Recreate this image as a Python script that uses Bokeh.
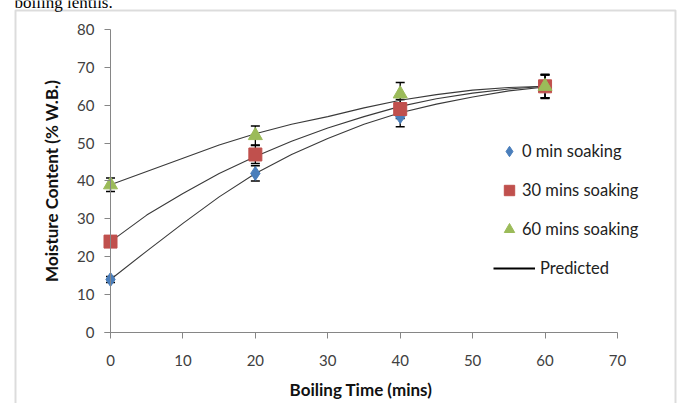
from bokeh.plotting import figure
from bokeh.models import (Range1d, FixedTicker, Whisker, ColumnDataSource, Legend,
                          LegendItem, Label, BoxAnnotation, TeeHead, LinearAxis)
from bokeh.embed import file_html
from bokeh.resources import INLINE

# ---- data ----
time = [0, 20, 40, 60]
soak0 = [14, 42, 57, 65]
soak30 = [24, 47, 59, 65]
soak60 = [39, 52, 63, 65]
err0 = [0.8, 2.0, 2.7, 3.0]
err30 = [0.8, 2.4, 2.5, 3.0]
err60 = [1.8, 2.5, 3.0, 3.2]

pred_time = [0, 5, 10, 15, 20, 25, 30, 35, 40, 45, 50, 55, 60]
pred0 = [14, 21.5, 28.8, 35.8, 42, 47, 51.2, 55, 58, 60.3, 62.2, 63.8, 64.8]
pred30 = [24, 31, 36.7, 42, 46.5, 50.5, 54, 57, 59.7, 61.7, 63.2, 64.3, 65]
pred60 = [39, 42.5, 46, 49.5, 52.5, 55, 57, 59.3, 61.3, 62.8, 64, 64.7, 65]

x_ticks = [0, 10, 20, 30, 40, 50, 60, 70]
y_ticks = [0, 10, 20, 30, 40, 50, 60, 70, 80]

FONT = "Lato"
AXIS_GRAY = "#868686"
NAN = float("nan")

# The frame covers the whole canvas so that the legend, the chart border and the
# caption fragment (all outside the plotting area) are not clipped; the axes are
# drawn at x = 0 and y = 0 with fixed_location.
p = figure(width=681, height=403, output_backend="svg", toolbar_location=None,
           x_range=Range1d(-15.19, 78.84), y_range=Range1d(-18.75, 87.66),
           frame_width=681, frame_height=403,
           min_border_left=0, min_border_right=0, min_border_top=0, min_border_bottom=0,
           x_axis_location=None, y_axis_location=None)
p.background_fill_color = "white"
p.border_fill_color = "white"
p.outline_line_color = None
p.xgrid.visible = False
p.ygrid.visible = False

xaxis = LinearAxis(fixed_location=0, bounds=(-0.8, 70), ticker=FixedTicker(ticks=x_ticks),
                   axis_label="Boiling Time (mins)")
yaxis = LinearAxis(fixed_location=0, bounds=(0, 80), ticker=FixedTicker(ticks=y_ticks),
                   axis_label="Moisture Content (% W.B.)")
for ax in (xaxis, yaxis):
    ax.axis_line_color = AXIS_GRAY
    ax.major_tick_line_color = AXIS_GRAY
    ax.minor_tick_line_color = None
    ax.major_tick_in = 0
    ax.major_tick_out = 6
    ax.major_label_text_font = FONT
    ax.major_label_text_font_size = "15px"
    ax.major_label_text_color = "#404040"
    ax.axis_label_text_font = FONT
    ax.axis_label_text_font_size = "17px"
    ax.axis_label_text_font_style = "bold"
    ax.axis_label_text_color = "#111111"
xaxis.major_label_standoff = 17
xaxis.axis_label_standoff = 9
yaxis.major_label_standoff = 10
yaxis.axis_label_standoff = 12
p.add_layout(xaxis, "below")
p.add_layout(yaxis, "left")

LINE = "#3a3a3a"
p.line(pred_time, pred0, line_color=LINE, line_width=1.1)
p.line(pred_time, pred30, line_color=LINE, line_width=1.1)
p.line(pred_time, pred60, line_color=LINE, line_width=1.1)

BLUE, RED, GREEN = "#4A7EBB", "#C0504D", "#9BBB59"
p.scatter(time, soak0, marker="diamond", size=14, fill_color=BLUE, line_color=BLUE)
p.scatter(time, soak30, marker="square", size=13, fill_color=RED, line_color=RED)
p.scatter(time, soak60, marker="triangle", size=14, fill_color=GREEN, line_color=GREEN)

for vals, errs in ((soak0, err0), (soak30, err30), (soak60, err60)):
    src = ColumnDataSource(dict(base=time,
                                upper=[v + e for v, e in zip(vals, errs)],
                                lower=[v - e for v, e in zip(vals, errs)]))
    w = Whisker(source=src, base="base", upper="upper", lower="lower",
                line_color="black", line_width=1.3,
                upper_head=TeeHead(size=9, line_color="black", line_width=1.5),
                lower_head=TeeHead(size=9, line_color="black", line_width=1.5))
    p.add_layout(w)

# legend-only glyphs
k0 = p.scatter([NAN], [NAN], marker="diamond", fill_color=BLUE, line_color=BLUE)
k30 = p.scatter([NAN], [NAN], marker="square", fill_color=RED, line_color=RED)
k60 = p.scatter([NAN], [NAN], marker="triangle", fill_color=GREEN, line_color=GREEN)
kp = p.line([NAN, NAN], [NAN, NAN], line_color="black", line_width=2)

leg1 = Legend(items=[LegendItem(label="0 min soaking", renderers=[k0]),
                     LegendItem(label="30 mins soaking", renderers=[k30]),
                     LegendItem(label="60 mins soaking", renderers=[k60])],
              location=(496, 159), orientation="vertical")
leg1.glyph_width = 26
leg1.glyph_height = 30
leg1.label_height = 30
leg1.spacing = 9
leg1.label_standoff = 0

leg2 = Legend(items=[LegendItem(label="Predicted", renderers=[kp])],
              location=(493, 125))
leg2.glyph_width = 42
leg2.glyph_height = 20
leg2.label_height = 20
leg2.spacing = 19
leg2.label_standoff = 5

for lg in (leg1, leg2):
    lg.padding = 0
    lg.margin = 0
    lg.border_line_color = None
    lg.background_fill_alpha = 0
    lg.label_text_font = FONT
    lg.label_text_font_size = "16.5px"
    lg.label_text_color = "#222222"
    p.add_layout(lg, "center")

# chart-area border
p.add_layout(BoxAnnotation(left=15, right=675, top=10, bottom=430,
                           left_units="canvas", right_units="canvas",
                           top_units="canvas", bottom_units="canvas",
                           fill_alpha=0, line_color="#8c8c8c", line_width=2))
# caption fragment from the source document, cut by the top edge
p.add_layout(Label(x=14, y=2, x_units="canvas", y_units="canvas", text="boiling lentils.",
                   text_font="Liberation Serif", text_font_size="17px",
                   text_color="black", text_baseline="alphabetic"))

open("out.html", "w").write(file_html(p, INLINE))
